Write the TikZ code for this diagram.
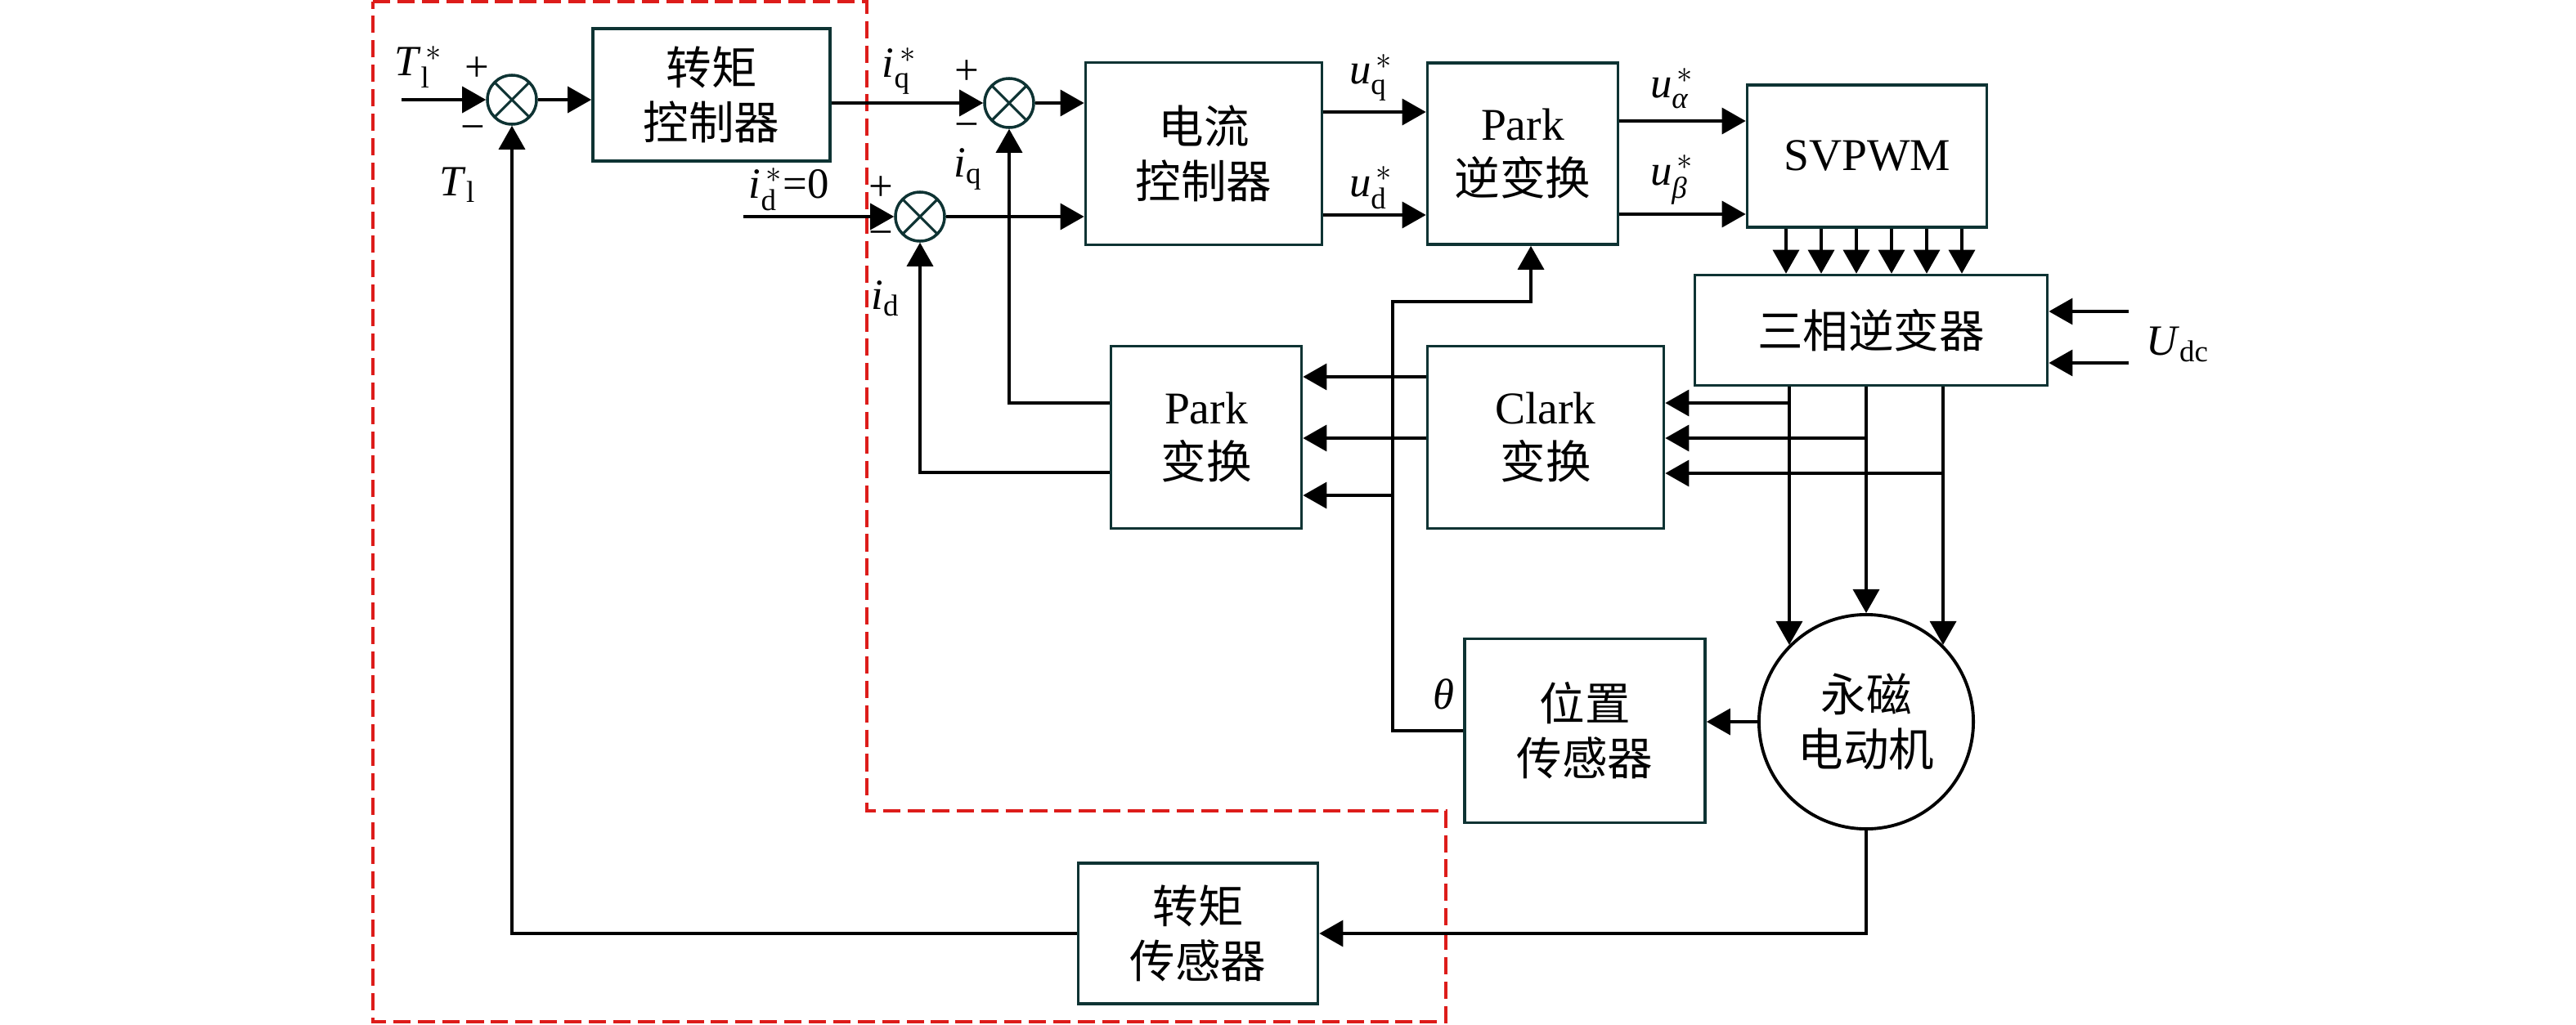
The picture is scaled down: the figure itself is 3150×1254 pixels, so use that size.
\documentclass[tikz,border=0pt]{standalone}
\usepackage{amsmath}
\usepackage{fontspec}
\setmainfont{Liberation Serif}
\newfontfamily\cjk{Noto Sans CJK SC}
\usetikzlibrary{arrows.meta}
\definecolor{boxc}{HTML}{0E3333}
\definecolor{redln}{HTML}{DD1C1A}
\newcommand{\sgs}[2]{\textit{#1}$_{\text{#2}}^{\,*}$}
\newcommand{\sgn}[2]{\textit{#1}$_{\text{#2}}$}

\begin{document}
\begin{tikzpicture}[x=0.01cm, y=-0.01cm,
    blk/.style={rectangle,draw=boxc,line width=1pt,align=center,inner sep=0pt,font=\cjk\fontsize{15.8}{19}\selectfont},
    sumj/.style={circle,draw=boxc,line width=1pt,minimum size=0.6cm,inner sep=0pt,
        path picture={\draw[boxc,line width=0.9pt] (path picture bounding box.north west) -- (path picture bounding box.south east)
        (path picture bounding box.north east) -- (path picture bounding box.south west);}},
    arr/.style={-{Triangle[length=0.29cm,width=0.32cm]},line width=1pt},
    lbl/.style={font=\fontsize{15}{18}\selectfont,inner sep=1pt},
    redbox/.style={draw=redln,line width=0.9pt,dash pattern=on 6pt off 2.5pt}
]
\useasboundingbox (0,0) rectangle (3150,1254);

% Blocks
\node[sumj] (s1) at (626,122) {};
\node[blk,minimum width=2.9cm,minimum height=1.62cm] (tc) at (870,116) {转矩\\控制器};
\node[sumj] (s2) at (1234,126) {};
\node[sumj] (s3) at (1125,265) {};
\node[blk,minimum width=2.89cm,minimum height=2.23cm] (cc) at (1472,188) {电流\\控制器};
\node[blk,minimum width=2.33cm,minimum height=2.22cm] (pi) at (1862,188) {{\rmfamily Park}\\逆变换};
\node[blk,minimum width=2.93cm,minimum height=1.74cm] (sv) at (2283,191) {\rmfamily SVPWM};
\node[blk,minimum width=4.31cm,minimum height=1.35cm] (inv) at (2288,404) {三相逆变器};
\node[blk,minimum width=2.33cm,minimum height=2.23cm] (pk) at (1475,535) {{\rmfamily Park}\\变换};
\node[blk,minimum width=2.89cm,minimum height=2.23cm] (cl) at (1890,535) {{\rmfamily Clark}\\变换};
\node[blk,minimum width=2.94cm,minimum height=2.25cm] (ps) at (1938,894) {位置\\传感器};
\node[blk,circle,draw=black,line width=1.1pt,minimum size=2.62cm] (mot) at (2282,883) {永磁\\电动机};
\node[blk,minimum width=2.93cm,minimum height=1.72cm] (ts) at (1465,1142) {转矩\\传感器};

% Dashed frame
\draw[redbox] (456,2) -- (1060,2) -- (1060,992) -- (1768,992) -- (1768,1250) -- (456,1250) -- cycle;

% Free ends
\coordinate (tin) at (491,122);
\coordinate (idin) at (909,265);
\coordinate (udc1) at (2603,381);
\coordinate (udc2) at (2603,444);
\coordinate (thc) at (1703,369);
\coordinate (thp) at (1703,606);

% Forward path
\draw[arr] (tin) -- (s1.west);
\draw[arr] (s1.east) -- (s1.east -| tc.west);
\draw[arr] (tc.east |- s2.west) -- (s2.west);
\draw[arr] (s2.east) -- (s2.east -| cc.west);
\draw[arr] (idin) -- (s3.west);
\draw[arr] (s3.east) -- (s3.east -| cc.west);
\draw[arr] (cc.east |- 0,137) -- (pi.west |- 0,137);
\draw[arr] (cc.east |- 0,263) -- (pi.west |- 0,263);
\draw[arr] (pi.east |- 0,148) -- (sv.west |- 0,148);
\draw[arr] (pi.east |- 0,262) -- (sv.west |- 0,262);
\foreach \x in {2184,2227,2270,2313,2356,2399} {
    \draw[arr] (sv.south -| \x,0) -- (inv.north -| \x,0);
}
\draw[arr] (udc1) -- (udc1 -| inv.east);
\draw[arr] (udc2) -- (udc2 -| inv.east);
\draw[arr] (inv.south -| mot.135) -- (mot.135);
\draw[arr] (inv.south -| mot.north) -- (mot.north);
\draw[arr] (inv.south -| mot.45) -- (mot.45);

% Current feedback
\draw[arr] (mot.135 |- 0,493) -- (cl.east |- 0,493);
\draw[arr] (mot.north |- 0,536) -- (cl.east |- 0,536);
\draw[arr] (mot.45 |- 0,579) -- (cl.east |- 0,579);
\draw[arr] (cl.west |- 0,461) -- (pk.east |- 0,461);
\draw[arr] (cl.west |- 0,536) -- (pk.east |- 0,536);
\draw[arr] (pk.west |- 0,493) -| (s2.south);
\draw[arr] (pk.west |- 0,578) -| (s3.south);

% Position and torque feedback
\draw[arr] (mot.west) -- (mot.west -| ps.east);
\draw[arr] (ps.west) -| (thc) -| ([xshift=0.1cm]pi.south);
\draw[arr] (thp) -- (thp -| pk.east);
\draw[arr] (mot.south) |- (ts.east);
\draw[arr] (ts.west) -| (s1.south);

% Labels
\node[lbl] (lTs) at (512,82) {\sgs{T}{l}};
\node[lbl] (lp1) at (583,85) {+};
\node[lbl] (lm1) at (578,163) {−};
\node[lbl] (lT) at (560,226) {\sgn{T}{l}};
\node[lbl] (liqs) at (1100,87) {\sgs{i}{q}};
\node[lbl] (lp2) at (1182,89) {+};
\node[lbl] (lm2) at (1182,160) {−};
\node[lbl] (liq) at (1184,207) {\sgn{i}{q}};
\node[lbl] (lids) at (965,232) {\sgs{i}{d}=0};
\node[lbl] (lp3) at (1077,231) {+};
\node[lbl] (lm3) at (1077,292) {−};
\node[lbl] (lid) at (1083,365) {\sgn{i}{d}};
\node[lbl] (luq) at (1677,95) {\sgs{u}{q}};
\node[lbl] (lud) at (1677,230) {\sgs{u}{d}};
\node[lbl] (lua) at (2045,108) {\sgs{u}{\textit{α}}};
\node[lbl] (lub) at (2045,220) {\sgs{u}{\textit{β}}};
\node[lbl] (ludc) at (2663,421) {\sgn{U}{dc}};
\node[lbl] (lth) at (1765,849) {\textit{θ}};
\end{tikzpicture}
\end{document}
